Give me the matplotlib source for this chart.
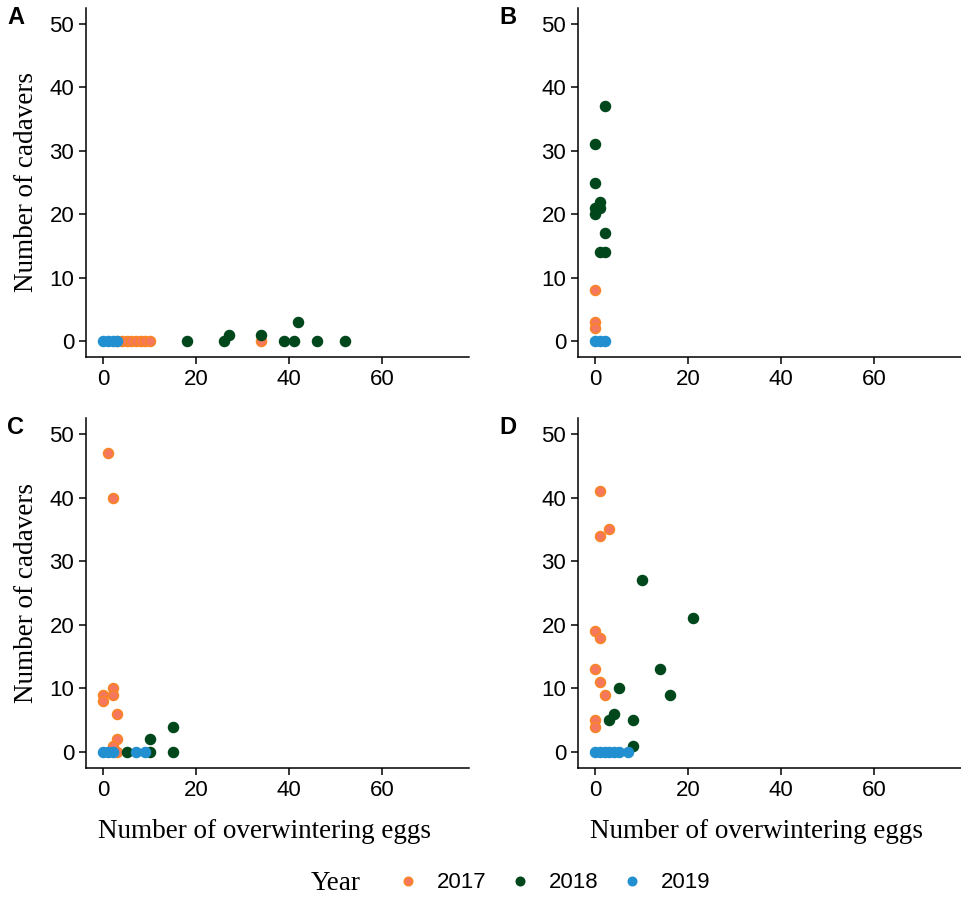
import matplotlib
matplotlib.use("Agg")
import matplotlib.pyplot as plt
from matplotlib.lines import Line2D

# eggs (x) and cadavers (y) per panel and year
a_2017_x = [3, 4, 5, 6, 7, 8, 9, 10, 34]
a_2017_y = [0, 0, 0, 0, 0, 0, 0, 0, 0]
a_2018_x = [18, 26, 27, 34, 39, 41, 42, 46, 52]
a_2018_y = [0, 0, 1, 1, 0, 0, 3, 0, 0]
a_2019_x = [0, 1, 2, 3]
a_2019_y = [0, 0, 0, 0]

b_2017_x = [0, 0, 0]
b_2017_y = [8, 3, 2]
b_2018_x = [2, 0, 0, 1, 0, 1, 0, 2, 1, 2]
b_2018_y = [37, 31, 25, 22, 21, 21, 20, 17, 14, 14]
b_2019_x = [0, 1, 2]
b_2019_y = [0, 0, 0]

c_2017_x = [1, 2, 2, 0, 2, 0, 3, 3, 2, 3]
c_2017_y = [47, 40, 10, 9, 9, 8, 6, 2, 1, 0]
c_2018_x = [15, 10, 10, 15, 5]
c_2018_y = [4, 2, 0, 0, 0]
c_2019_x = [0, 1, 2, 7, 9]
c_2019_y = [0, 0, 0, 0, 0]

d_2017_x = [1, 3, 1, 0, 1, 0, 1, 2, 0, 0]
d_2017_y = [41, 35, 34, 19, 18, 13, 11, 9, 5, 4]
d_2018_x = [10, 21, 14, 16, 5, 4, 3, 8, 8]
d_2018_y = [27, 21, 13, 9, 10, 6, 5, 5, 1]
d_2019_x = [0, 1, 2, 3, 4, 5, 7]
d_2019_y = [0, 0, 0, 0, 0, 0, 0]

years = ["2017", "2018", "2019"]
panels = {
    "A": [(a_2017_x, a_2017_y), (a_2018_x, a_2018_y), (a_2019_x, a_2019_y)],
    "B": [(b_2017_x, b_2017_y), (b_2018_x, b_2018_y), (b_2019_x, b_2019_y)],
    "C": [(c_2017_x, c_2017_y), (c_2018_x, c_2018_y), (c_2019_x, c_2019_y)],
    "D": [(d_2017_x, d_2017_y), (d_2018_x, d_2018_y), (d_2019_x, d_2019_y)],
}

face = {"2017": "#F4775E", "2018": "#00471B", "2019": "#2290D0"}
edge = {"2017": "#F98524", "2018": "#00471B", "2019": "#2290D0"}

SANS = "Liberation Sans"
SERIF = "Liberation Serif"

fig = plt.figure(figsize=(9.62, 8.98), dpi=100)
W, H = 962, 898

# axes boxes in pixels: left, top, right, bottom
boxes = {
    "A": (86, 8, 469, 357),
    "B": (578, 8, 961, 357),
    "C": (86, 418, 469, 768),
    "D": (578, 418, 961, 768),
}

for name, (l, t, r, b) in boxes.items():
    ax = fig.add_axes([l / W, 1 - b / H, (r - l) / W, (b - t) / H])
    for yr, (xs, ys) in zip(years, panels[name]):
        ax.scatter(xs, ys, s=50, facecolor=face[yr], edgecolor=edge[yr],
                   linewidths=1.2, zorder=3)
    ax.set_xlim(-3.75, 78.75)
    ax.set_ylim(-2.5, 52.5)
    ax.set_xticks([0, 20, 40, 60])
    ax.set_yticks([0, 10, 20, 30, 40, 50])
    for s in ["top", "right"]:
        ax.spines[s].set_visible(False)
    for s in ["left", "bottom"]:
        ax.spines[s].set_linewidth(1.1)
    ax.tick_params(length=5, width=1.1, labelsize=16, pad=3.5)
    for lab in ax.get_xticklabels() + ax.get_yticklabels():
        lab.set_fontfamily(SANS)
    if name in ("A", "C"):
        ax.set_ylabel("Number of cadavers", fontfamily=SERIF, fontsize=19.5)
        ax.yaxis.set_label_coords(-47 / (r - l), 0.5)
    if name in ("C", "D"):
        ax.set_xlabel("Number of overwintering eggs", fontfamily=SERIF, fontsize=19.5)
        ax.xaxis.set_label_coords(0.466, -51 / (b - t))
    fig.text((l - 79) / W, 1 - (t + 10) / H, name, fontfamily=SANS,
             fontsize=17, fontweight="bold", va="center", ha="left")

# legend
fig.text(336 / W, 1 - 883 / H, "Year", fontfamily=SERIF, fontsize=19.5,
         ha="center", va="center")
handles = [Line2D([], [], linestyle="", marker="o", markersize=6,
                  markerfacecolor=face[y], markeredgecolor=edge[y],
                  markeredgewidth=1.2) for y in years]
leg = fig.legend(handles, years, ncol=3, frameon=False,
                 loc="center left", bbox_to_anchor=(395 / W, 1 - 883 / H),
                 prop={"family": SANS, "size": 16},
                 handlelength=1.2, handletextpad=0.7, columnspacing=0.9,
                 borderaxespad=0, borderpad=0)

fig.savefig("out.png", dpi=100, facecolor="white")
